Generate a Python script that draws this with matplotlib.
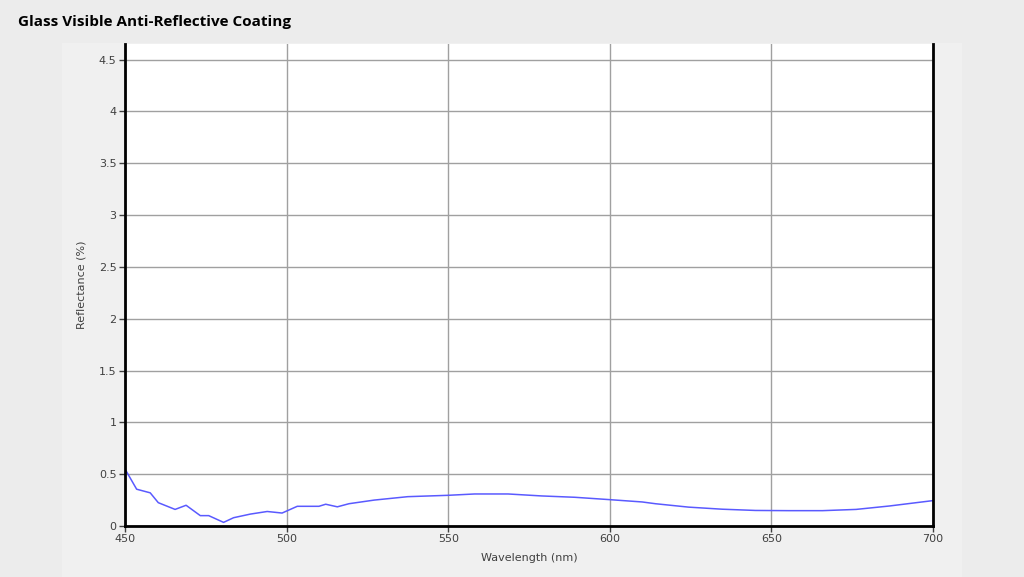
import matplotlib
matplotlib.use("Agg")
import matplotlib.pyplot as plt
from matplotlib.patches import Rectangle

# reflectance curve
wavelength = [450, 453.6, 457.8, 460.3, 465.5, 468.9, 473.3, 475.9, 480.5, 483.6,
              488.8, 494, 498.6, 503.3, 510, 512.1, 515.7, 519.3, 527.1, 537.5,
              549.9, 558.2, 568.5, 578.9, 589.2, 599.6, 610, 614.1, 624.4, 634.8,
              645.1, 655.5, 665.8, 676.2, 686.5, 700]
reflectance = [0.55, 0.355, 0.32, 0.225, 0.16, 0.2, 0.1, 0.1, 0.035, 0.08,
               0.115, 0.14, 0.125, 0.19, 0.19, 0.21, 0.185, 0.215, 0.25, 0.283,
               0.296, 0.309, 0.309, 0.29, 0.277, 0.255, 0.232, 0.215, 0.182, 0.162,
               0.15, 0.148, 0.148, 0.16, 0.193, 0.245]

x_ticks = [450, 500, 550, 600, 650, 700]
y_ticks = [0, 0.5, 1, 1.5, 2, 2.5, 3, 3.5, 4, 4.5]
y_labels = ["0", "0.5", "1", "1.5", "2", "2.5", "3", "3.5", "4", "4.5"]

fig = plt.figure(figsize=(10.24, 5.77), dpi=100)
fig.patch.set_facecolor("#ececec")

# lighter panel behind the chart
fig.add_artist(Rectangle((62 / 1024, 0), 900 / 1024, 534 / 577,
                         transform=fig.transFigure, facecolor="#f0f0f0",
                         edgecolor="none", zorder=0))

fig.text(18 / 1024, 1 - 22 / 577, "Glass Visible Anti-Reflective Coating",
         fontsize=11, fontweight="bold", fontstretch="normal", family="Open Sans",
         va="center", ha="left")

ax = fig.add_axes([125 / 1024, 51 / 577, 808 / 1024, 482 / 577])
ax.set_facecolor("white")
ax.plot(wavelength, reflectance, color="#5a5aff", lw=1.1)

ax.set_xlim(450, 700)
ax.set_ylim(0, 4.65)
ax.set_xticks(x_ticks)
ax.set_yticks(y_ticks)
ax.set_yticklabels(y_labels)
ax.grid(True, color="#a0a0a0", lw=1)
ax.set_axisbelow(True)

for side in ["left", "right", "bottom"]:
    ax.spines[side].set_linewidth(2)
    ax.spines[side].set_color("black")
ax.spines["top"].set_visible(False)

ax.tick_params(axis="both", labelsize=8, labelcolor="#404040", color="#404040",
               length=4, width=1, pad=2)
ax.set_xlabel("Wavelength (nm)", fontsize=8, color="#404040", labelpad=6)
ax.set_ylabel("Reflectance (%)", fontsize=8, color="#404040", labelpad=9)

fig.savefig("out.png", dpi=100, facecolor=fig.get_facecolor())
